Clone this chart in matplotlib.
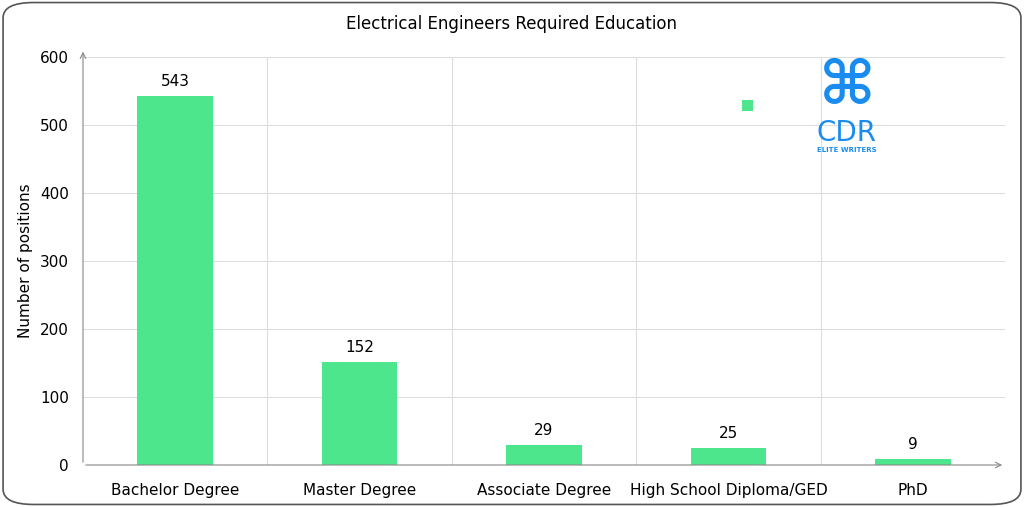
import matplotlib.pyplot as plt
from matplotlib.patches import FancyBboxPatch

categories = ['Bachelor Degree', 'Master Degree', 'Associate Degree', 'High School Diploma/GED', 'PhD']
positions = [543, 152, 29, 25, 9]
yticks = [0, 100, 200, 300, 400, 500, 600]

green = '#4ee68c'

fig = plt.figure(figsize=(10.24, 5.07), dpi=100)
fig.patches.append(FancyBboxPatch((0.003, 0.005), 0.994, 0.99, boxstyle='round,pad=0,rounding_size=0.03',
                                  transform=fig.transFigure, fc='white', ec='#555555', lw=1.2, zorder=-10))
ax = fig.add_axes([83/1024, 1-465/507, (1005-83)/1024, (465-57)/507])
ax.set_facecolor('none')

x = range(len(categories))
bars = ax.bar(x, positions, width=0.41, color=green, zorder=3)
for xi, v in zip(x, positions):
    ax.text(xi, v + 10, str(v), ha='center', va='bottom', fontsize=11)

ax.set_xlim(-0.5, 4.5)
ax.set_ylim(0, 600)
ax.set_yticks(yticks)
ax.set_xticks(list(x))
ax.set_xticklabels(categories, fontsize=11)
ax.tick_params(axis='both', length=0, labelsize=11)
ax.tick_params(axis='x', pad=13)
ax.tick_params(axis='y', pad=10)
ax.grid(axis='y', color='#dddddd', lw=0.8, zorder=0)
for b in [0.5, 1.5, 2.5, 3.5]:
    ax.axvline(b, color='#dddddd', lw=0.8, zorder=0)
for s in ax.spines.values():
    s.set_visible(False)
# arrow axes
ax.annotate('', xy=(4.5, 0), xytext=(-0.5, 0), xycoords='data',
            arrowprops=dict(arrowstyle='->', color='#888888', lw=0.8), annotation_clip=False)
ax.annotate('', xy=(-0.5, 612), xytext=(-0.5, 0),
            arrowprops=dict(arrowstyle='->', color='#888888', lw=0.8), annotation_clip=False)
ax.set_ylabel('Number of positions', fontsize=11)
ax.yaxis.set_label_coords(-50/922, 0.5)

fig.text(0.5, 1-24/507, 'Electrical Engineers Required Education', ha='center', va='center', fontsize=12)

# legend marker and logo
fig.patches.append(plt.Rectangle((742/1024, 1-111/507), 11/1024, 11/507, transform=fig.transFigure, fc=green))
fig.text(847/1024, 1-88/507, '\u2318', ha='center', va='center', fontsize=44, color='#1a8cf0', fontweight='bold')
fig.text(847/1024, 1-133/507, 'CDR', ha='center', va='center', fontsize=20, color='#1a8cf0')
fig.text(847/1024, 1-150/507, 'ELITE WRITERS', ha='center', va='center', fontsize=5, color='#1a8cf0', fontweight='bold')

fig.savefig('out.png', dpi=100)
